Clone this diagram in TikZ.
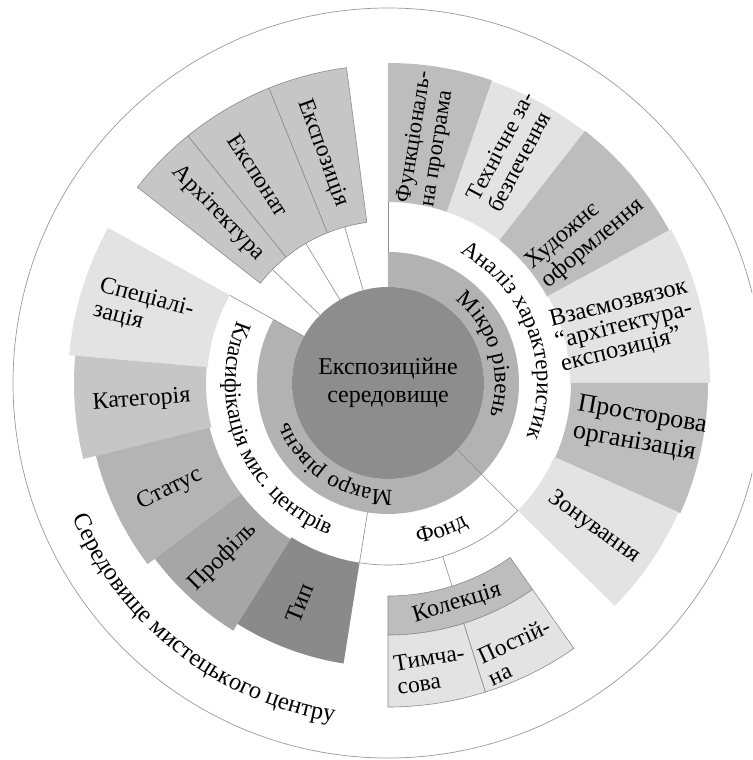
\documentclass[tikz,border=0pt]{standalone}
\usepackage{fontspec}
\setmainfont{Liberation Serif}
\usetikzlibrary{decorations.text}
\definecolor{linegray}{HTML}{8C8C8C}
\definecolor{circgray}{HTML}{9A9A9A}
\definecolor{cdark}{HTML}{8D8D8D}
\definecolor{clevel}{HTML}{B2B2B2}
\definecolor{cmid}{HTML}{BDBDBD}
\definecolor{clight}{HTML}{E3E3E3}
\definecolor{ctop}{HTML}{C6C6C6}
\definecolor{ckat}{HTML}{C6C6C6}
\definecolor{cstat}{HTML}{B4B4B4}
\definecolor{cprof}{HTML}{A6A6A6}
\definecolor{ctyp}{HTML}{8A8A8A}
\newcommand{\annsec}[6][]{%
  \path[fill=#2,#1] (#3:#5pt) arc[start angle=#3, end angle=#4, radius=#5pt]
    -- (#4:#6pt) arc[start angle=#4, end angle=#3, radius=#6pt] -- cycle;}
\newcommand{\curvefont}{\fontsize{23}{23}\selectfont}
\newcommand{\bigcurvefont}{\fontsize{24.5}{24.5}\selectfont}
\begin{document}
\begin{tikzpicture}[
  lab/.style={font=\fontsize{24}{25}\selectfont, align=left, inner sep=0pt},
  thinline/.style={draw=linegray, line width=0.6pt},
  boxed/.style={draw=linegray, line width=0.6pt},
]
\useasboundingbox (-388pt,-377pt) rectangle (364pt,383pt);
\clip (-388pt,-377pt) rectangle (364pt,383pt);
% outer circle
\draw[circgray, line width=0.7pt, fill=white] (0,0) circle[radius=375pt];

% level ring (Mikro / Makro)
\annsec{clevel}{90}{-44.5}{96}{131}
\annsec{clevel}{-44.5}{-209}{96}{131}

% right sectors
\annsec{cmid}{90}{71}{181}{320}
\annsec{clight}{71}{52}{181}{319}
\annsec{cmid}{52}{28.5}{181}{320}
\annsec{clight}{28.5}{0}{182}{322}
\annsec{cmid}{0}{-24}{183}{320}
\annsec{clight}{-24}{-44.5}{182}{318}

% top-left sectors
\annsec[boxed]{ctop}{97.5}{112}{162}{318}
\annsec[boxed]{ctop}{112}{129}{162}{318}
\annsec[boxed]{ctop}{129}{142}{162}{318}

% left sectors
\annsec{clight}{151}{175}{181}{320}
\annsec{ckat}{175}{194}{182}{314}
\annsec{cstat}{194}{217}{184}{301}
\annsec{cprof}{217}{238}{184}{292}
\annsec{ctyp}{238}{261}{182}{284}

% collection boxes
\annsec[boxed]{cmid}{-90}{-55}{213}{252}
\annsec[boxed]{clight}{-90}{-72.5}{252}{324}
\annsec[boxed]{clight}{-72.5}{-55}{252}{324}

% centre
\node[circle, fill=cdark, minimum size=192pt, inner sep=0pt, align=center,
  font=\fontsize{24}{28}\selectfont] (core) at (0,0) {Експозиційне\\середовище};

% ring-3 outlines
\coordinate (a90i) at (90:131pt);   \coordinate (a90o) at (90:181pt);
\coordinate (m45o) at (-44.5:182pt);
\coordinate (m99i) at (-99:131pt);  \coordinate (m99o) at (-99:182pt);
\coordinate (a151o) at (151:181pt);
\draw[thinline] (a90i) -- (a90o);
\draw[thinline] (core.-44.5) -- (m45o);
\draw[thinline] (m99i) -- (m99o);
\draw[thinline] (core.151) -- (a151o);
\draw[thinline] (m45o) arc[start angle=-44.5, end angle=-99, radius=182pt];

% connectors
\coordinate (expzin) at (105.5:162pt);
\coordinate (expnin) at (120.5:162pt);
\coordinate (archin) at (135.5:162pt);
\draw[thinline] (expzin) -- (core.105.5);
\draw[thinline] (expnin) -- (core.120.5);
\draw[thinline] (archin) -- (core.135.5);
\coordinate (fondout) at (-72.5:182pt);
\coordinate (kolin) at (-72.5:213pt);
\draw[thinline] (fondout) -- (kolin);

% curved texts
\path[decorate, decoration={text along path, text align=center,
  text={|\curvefont|Мікро рівень}}]
  (60:107pt) arc[start angle=60, end angle=-27, radius=107pt];
\path[decorate, decoration={text along path, text align=center,
  text={|\curvefont|Макро рівень}}]
  (285:107pt) arc[start angle=285, end angle=189, radius=107pt];
\path[decorate, decoration={text along path, text align=center,
  text={|\curvefont|Аналіз характеристик}}]
  (80:149pt) arc[start angle=80, end angle=-40, radius=149pt];
\path[decorate, decoration={text along path, text align=center,
  text={|\curvefont|Класифікація мис. центрів}}]
  (140:163pt) arc[start angle=140, end angle=266, radius=163pt];
\path[decorate, decoration={text along path, text align=center,
  text={|\curvefont|Фонд}}]
  (268:163pt) arc[start angle=268, end angle=312, radius=163pt];
\path[decorate, decoration={text along path, text align=center,
  text={|\bigcurvefont|Середовище мистецького центру}}]
  (188:343pt) arc[start angle=188, end angle=276, radius=343pt];

% labels right
\node[lab, font=\fontsize{22.5}{24}\selectfont, rotate=81] (funk) at (81:247pt) {Функціональ-\\на програма};
\node[lab, font=\fontsize{23}{24}\selectfont, rotate=62] (tech) at (62:262pt) {Технічне за-\\безпечення};
\node[lab, rotate=40] (hud) at (37:247pt) {Художнє\\оформлення};
\node[lab, font=\fontsize{24.5}{23}\selectfont, rotate=14] (vzaem) at (13.5:243pt) {Взаємозвязок\\“архітектура-\\експозиція”};
\node[lab, font=\fontsize{26}{28}\selectfont, rotate=-10] (prost) at (-10.5:256pt) {Просторова\\організація};
\node[lab, rotate=-36] (zon) at (-35:252pt) {Зонування};
% labels top-left
\node[lab, font=\fontsize{23.5}{25}\selectfont, rotate=-70] (expz) at (105.8:239pt) {Експозиція};
\node[lab, font=\fontsize{23.5}{25}\selectfont, rotate=-57] (expn) at (122:245pt) {Експонат};
\node[lab, font=\fontsize{23.5}{25}\selectfont, rotate=-46] (arch) at (135:240pt) {Архітектура};
% labels left
\node[lab, rotate=-15] (spec) at (163.5:255pt) {Спеціалі-\\зація};
\node[lab, rotate=4] (kat) at (184:247pt) {Категорія};
\node[lab, rotate=26] (stat) at (206:243pt) {Статус};
\node[lab, rotate=45] (prof) at (226.5:240pt) {Профіль};
\node[lab, rotate=68] (typ) at (248:237pt) {Тип};
% labels bottom
\node[lab, rotate=17] (kol) at (-72.6:231pt) {Колекція};
\node[lab, font=\fontsize{23.5}{24}\selectfont, rotate=9] (tymch) at (-81.5:290pt) {Тимча-\\сова};
\node[lab, font=\fontsize{23.5}{24}\selectfont, rotate=25] (post) at (-64:299pt) {Постій-\\на};
\end{tikzpicture}
\end{document}
